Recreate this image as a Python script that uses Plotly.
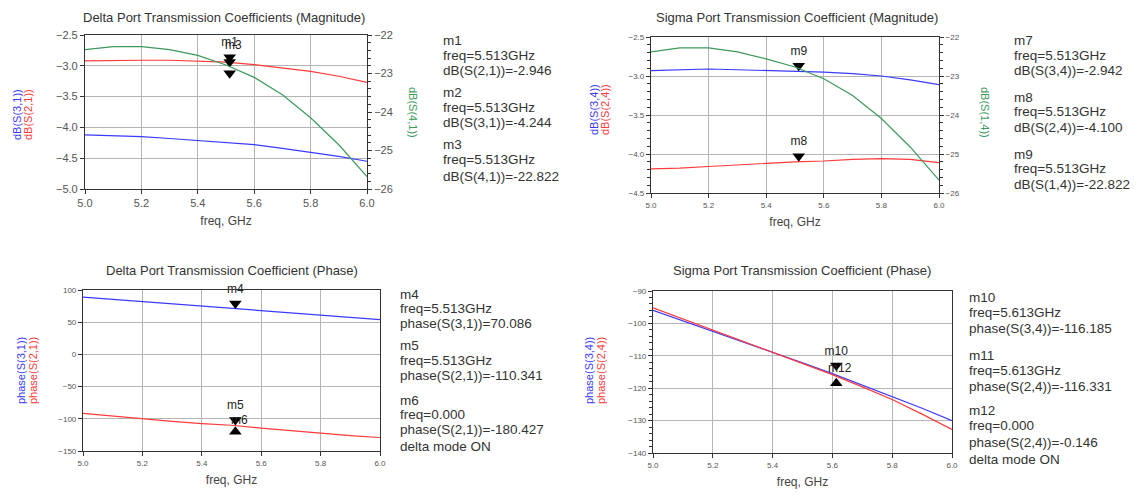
import plotly.graph_objects as go

W, H = 1146, 502

# ---------------- data ----------------
freq = [5.0, 5.1, 5.2, 5.3, 5.4, 5.5, 5.6, 5.7, 5.8, 5.9, 6.0]

# Delta port magnitude (dB)
dB_S21 = [-2.92, -2.91, -2.91, -2.91, -2.92, -2.94, -2.98, -3.03, -3.09, -3.17, -3.27]
dB_S31 = [-4.12, -4.13, -4.15, -4.18, -4.21, -4.24, -4.28, -4.34, -4.40, -4.47, -4.55]
dB_S41 = [-22.38, -22.30, -22.30, -22.38, -22.53, -22.78, -23.10, -23.55, -24.15, -24.85, -25.68]

# Sigma port magnitude (dB)
dB_S34 = [-2.93, -2.92, -2.91, -2.92, -2.93, -2.94, -2.95, -2.97, -3.00, -3.05, -3.11]
dB_S24 = [-4.19, -4.18, -4.16, -4.14, -4.12, -4.10, -4.09, -4.07, -4.06, -4.07, -4.11]
dB_S14 = [-22.38, -22.28, -22.28, -22.38, -22.56, -22.77, -23.07, -23.50, -24.09, -24.82, -25.67]

# Delta port phase (deg)
ph_S31 = [89.0, 85.5, 82.0, 78.0, 74.0, 70.5, 67.0, 64.0, 61.0, 57.5, 54.0]
ph_S21 = [-91.5, -96.0, -100.5, -104.0, -107.5, -110.0, -114.5, -118.5, -122.5, -126.0, -129.0]

# Sigma port phase (deg)
ph_S34 = [-96.0, -99.2, -102.5, -105.8, -109.0, -112.2, -115.5, -119.0, -122.5, -126.2, -130.0]
ph_S24 = [-95.2, -98.6, -102.0, -105.4, -108.8, -112.2, -115.8, -119.6, -123.5, -128.0, -132.7]

# marker symbols as displayed (freq, y)
mk1_f = [5.513, 5.513, 5.513]
mk1_y = [-2.86, -2.94, -3.12]
mk1_lbl = ["m1", "", ""]
mk2_f = [5.513, 5.513]
mk2_y = [-2.87, -4.03]
mk2_lbl = ["m9", "m8"]
mk3_f = [5.513, 5.513]
mk3_y = [79, -102]
mk3_lbl = ["m4", "m5"]
mk3u_f = [5.513]
mk3u_y = [-120]
mk4_f = [5.613]
mk4_y = [-113]
mk4_lbl = ["m10"]
mk4u_f = [5.613]
mk4u_y = [-118.5]

# marker readouts
txt1 = ["m1", "freq=5.513GHz", "dB(S(2,1))=-2.946",
        "m2", "freq=5.513GHz", "dB(S(3,1))=-4.244",
        "m3", "freq=5.513GHz", "dB(S(4,1))=-22.822"]
txt2 = ["m7", "freq=5.513GHz", "dB(S(3,4))=-2.942",
        "m8", "freq=5.513GHz", "dB(S(2,4))=-4.100",
        "m9", "freq=5.513GHz", "dB(S(1,4))=-22.822"]
txt3 = ["m4", "freq=5.513GHz", "phase(S(3,1))=70.086",
        "m5", "freq=5.513GHz", "phase(S(2,1))=-110.341",
        "m6", "freq=0.000", "phase(S(2,1))=-180.427", "delta mode ON"]
txt4 = ["m10", "freq=5.613GHz", "phase(S(3,4))=-116.185",
        "m11", "freq=5.613GHz", "phase(S(2,4))=-116.331",
        "m12", "freq=0.000", "phase(S(2,4))=-0.146", "delta mode ON"]

BLUE = "#3a3aff"
RED = "#ff3a3a"
GREEN = "#3c9a5a"
FONT = "Liberation Sans, Arial, sans-serif"

def px_x(a, b):
    return [a / W, b / W]

def px_y(top, bottom):
    return [1 - bottom / H, 1 - top / H]

fig = go.Figure()

def line(x, y, color, xa, ya):
    fig.add_trace(go.Scatter(x=x, y=y, mode="lines", line=dict(color=color, width=1.2),
                             xaxis=xa, yaxis=ya, showlegend=False, hoverinfo="skip"))

def marks(x, y, symbol, xa, ya, labels=None):
    fig.add_trace(go.Scatter(x=x, y=y, mode="markers+text" if labels else "markers",
                             text=labels, textposition="top center", cliponaxis=False,
                             textfont=dict(family=FONT, size=12, color="#222"),
                             marker=dict(symbol=symbol, size=11, color="black"),
                             xaxis=xa, yaxis=ya, showlegend=False, hoverinfo="skip"))

# Panel 1
line(freq, dB_S21, RED, "x", "y")
line(freq, dB_S31, BLUE, "x", "y")
line(freq, dB_S41, GREEN, "x", "y2")
marks(mk1_f, mk1_y, "triangle-down", "x", "y", mk1_lbl)
# Panel 2
line(freq, dB_S34, BLUE, "x2", "y3")
line(freq, dB_S24, RED, "x2", "y3")
line(freq, dB_S14, GREEN, "x2", "y4")
marks(mk2_f, mk2_y, "triangle-down", "x2", "y3", mk2_lbl)
# Panel 3
line(freq, ph_S31, BLUE, "x3", "y5")
line(freq, ph_S21, RED, "x3", "y5")
marks(mk3_f, mk3_y, "triangle-down", "x3", "y5", mk3_lbl)
marks(mk3u_f, mk3u_y, "triangle-up", "x3", "y5")
# Panel 4
line(freq, ph_S34, BLUE, "x4", "y6")
line(freq, ph_S24, RED, "x4", "y6")
marks(mk4_f, mk4_y, "triangle-down", "x4", "y6", mk4_lbl)
marks(mk4u_f, mk4u_y, "triangle-up", "x4", "y6")

grid = "#b4b4b4"
tickc = "#555"

def xax(dom, anchor, fs):
    return dict(domain=dom, anchor=anchor, range=[5.0, 6.0], dtick=0.2, tickformat=".1f",
                automargin=False,
                showgrid=True, gridcolor=grid, gridwidth=1, zeroline=False,
                showline=True, linecolor="#333", linewidth=1.2, mirror=True,
                ticks="outside", ticklen=4, tickcolor="#333",
                tickfont=dict(family=FONT, size=fs, color=tickc),
                title=dict(text="freq, GHz", font=dict(family=FONT, size=12, color="#444"), standoff=8))

def yax(dom, anchor, rng, dtick, fs, minor=None):
    d = dict(domain=dom, anchor=anchor, range=rng, dtick=dtick, automargin=False,
             showgrid=True, gridcolor=grid, gridwidth=1, zeroline=False,
             showline=True, linecolor="#333", linewidth=1.2, mirror=True,
             ticks="outside", ticklen=4, tickcolor="#333",
             tickfont=dict(family=FONT, size=fs, color=tickc))
    if minor:
        d["minor"] = dict(dtick=minor, ticks="outside", ticklen=3, tickcolor="#333", showgrid=False)
    return d

def yright(overl, anchor, rng, fs):
    return dict(overlaying=overl, side="right", anchor=anchor, range=rng, dtick=1,
                tickformat="d", automargin=False,
                showgrid=False, zeroline=False, showline=False,
                ticks="outside", ticklen=4, tickcolor="#333",
                tickfont=dict(family=FONT, size=fs, color=tickc),
                minor=dict(dtick=0.2, ticks="outside", ticklen=3, tickcolor="#333", showgrid=False))

y1 = yax(px_y(35, 189), "x", [-5.0, -2.5], 0.5, 11)
y1["tickformat"] = ".1f"
y3 = yax(px_y(37, 193), "x2", [-4.5, -2.5], 0.5, 8, minor=0.1)
y3["tickformat"] = ".1f"

fig.update_layout(
    width=W, height=H, margin=dict(l=0, r=0, t=0, b=0, autoexpand=False),
    paper_bgcolor="white", plot_bgcolor="white",
    xaxis=xax(px_x(85, 367), "y", 11),
    yaxis=y1,
    yaxis2=yright("y", "x", [-26, -22], 11),
    xaxis2=xax(px_x(651, 939), "y3", 8),
    yaxis3=y3,
    yaxis4=yright("y3", "x2", [-26, -22], 8),
    xaxis3=xax(px_x(83, 380), "y5", 8),
    yaxis5=yax(px_y(290, 451), "x3", [-150, 100], 50, 8),
    xaxis4=xax(px_x(653, 952), "y6", 8),
    yaxis6=yax(px_y(291, 453), "x4", [-140, -90], 10, 8, minor=2),
)

ann = []

def text(x, y, s, size=12, color="#333", angle=0, xanchor="left"):
    ann.append(dict(x=x / W, y=1 - y / H, xref="paper", yref="paper", text=s, showarrow=False,
                    xanchor=xanchor, yanchor="middle", textangle=angle,
                    font=dict(family=FONT, size=size, color=color)))

# titles
text(224, 18, "Delta Port Transmission Coefficients (Magnitude)", 13, "#333", xanchor="center")
text(797, 18, "Sigma Port Transmission Coefficient (Magnitude)", 13, "#333", xanchor="center")
text(232, 270, "Delta Port Transmission Coefficient (Phase)", 13, "#333", xanchor="center")
text(802, 270, "Sigma Port Transmission Coefficient (Phase)", 13, "#333", xanchor="center")

# y-axis titles
text(17, 115, "dB(S(3,1))", 11, BLUE, -90, "center")
text(28, 115, "dB(S(2,1))", 11, RED, -90, "center")
text(413, 112, "dB(S(4,1))", 11, GREEN, 90, "center")
text(594, 110, "dB(S(3,4))", 11, BLUE, -90, "center")
text(605, 110, "dB(S(2,4))", 11, RED, -90, "center")
text(985, 112, "dB(S(1,4))", 11, GREEN, 90, "center")
text(21, 371, "phase(S(3,1))", 11, BLUE, -90, "center")
text(33, 371, "phase(S(2,1))", 11, RED, -90, "center")
text(589, 371, "phase(S(3,4))", 11, BLUE, -90, "center")
text(601, 371, "phase(S(2,4))", 11, RED, -90, "center")

# readouts
def block(x, ys, lines):
    for yy, s in zip(ys, lines):
        text(x, yy, s, 13.5, "#333")

block(441, [40, 55, 70, 92, 107, 122, 145, 160, 176], txt1)
block(1012, [40, 55, 70, 97, 111, 127, 155, 169, 184], txt2)
block(398, [294, 308, 323, 345, 360, 375, 400, 414, 429, 446], txt3)
block(967, [297, 312, 328, 355, 370, 386, 410, 425, 442, 459], txt4)

# overlapping marker labels (they overlap in the original as well)
text(233, 45, "m3", 12, "#222", xanchor="center")
text(239, 420, "m6", 12, "#222", xanchor="center")
text(840, 368, "m12", 12, "#222", xanchor="center")

fig.update_layout(annotations=ann)
fig.write_html("out.html", config={"displayModeBar": False},
               post_script="document.body.style.margin='0';document.body.style.overflow='hidden';")
